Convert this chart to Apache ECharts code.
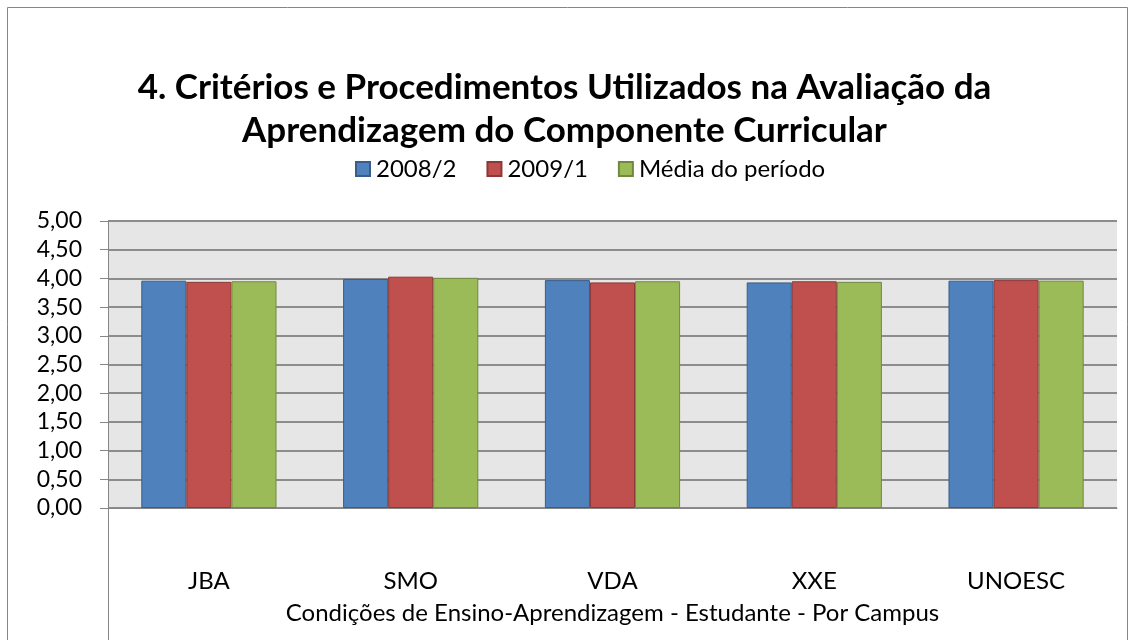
<!DOCTYPE html>
<html><head><meta charset="utf-8">
<script src="https://cdn.jsdelivr.net/npm/echarts@6/dist/echarts.min.js"></script>
<style>html,body{margin:0;padding:0;background:#fff}#c{width:1129px;height:640px}</style>
</head><body><div id="c"></div>
<script>
const categories = ['JBA', 'SMO', 'VDA', 'XXE', 'UNOESC'];
const s2008_2 = [3.96, 3.99, 3.97, 3.93, 3.96];
const s2009_1 = [3.94, 4.03, 3.93, 3.95, 3.97];
const sMedia = [3.95, 4.01, 3.95, 3.94, 3.96];
const seriesNames = ['2008/2', '2009/1', 'Média do período'];
const titleText = '4. Critérios e Procedimentos Utilizados na Avaliação da\nAprendizagem do Componente Curricular';
const xAxisName = 'Condições de Ensino-Aprendizagem - Estudante - Por Campus';

const font = 'Lato, "Open Sans", sans-serif';
const chart = echarts.init(document.getElementById('c'), null, {renderer: 'canvas'});
const colors = ['#4F81BD', '#C0504D', '#9BBB59'];
const borders = ['#385D8A', '#8C3836', '#71893F'];
const data = [s2008_2, s2009_1, sMedia];
chart.setOption({
  animation: false,
  title: {
    text: titleText, left: 'center', top: 61,
    textStyle: {fontFamily: font, fontWeight: 'bold', fontSize: 35, lineHeight: 43, color: '#000'}
  },
  legend: {
    top: 152, left: 350, itemWidth: 14, itemHeight: 14, itemGap: 30,
    icon: 'rect',
    textStyle: {fontFamily: font, fontSize: 24, color: '#000', padding: [0, 0, 0, 1]},
    data: seriesNames
  },
  graphic: [
    {type: 'rect', shape: {x: 7.5, y: 7.5, width: 1120, height: 700}, style: {fill: 'none', stroke: '#868686', lineWidth: 1}, silent: true},
    {type: 'line', shape: {x1: 108.5, y1: 508, x2: 108.5, y2: 640}, style: {stroke: '#868686', lineWidth: 1}, silent: true}
  ],
  grid: {left: 108, right: 12, top: 221, bottom: 132, show: true, backgroundColor: '#E6E6E6', borderWidth: 0},
  xAxis: {
    type: 'category', data: categories,
    name: xAxisName, nameLocation: 'middle', nameGap: 93,
    nameTextStyle: {fontFamily: font, fontSize: 24, color: '#000'},
    axisLine: {lineStyle: {color: '#868686', width: 1}},
    axisTick: {show: false},
    axisLabel: {fontFamily: font, fontSize: 24, color: '#000', margin: 61}
  },
  yAxis: {
    type: 'value', min: 0, max: 5, interval: 0.5,
    axisLine: {show: true, lineStyle: {color: '#868686'}},
    axisTick: {show: true, length: 8, lineStyle: {color: '#868686'}},
    splitLine: {lineStyle: {color: '#8C8C8C', width: 2}},
    axisLabel: {fontFamily: font, fontSize: 23, color: '#000', margin: 26,
      formatter: v => v.toFixed(2).replace('.', ',')}
  },
  series: seriesNames.map((n, i) => ({
    name: n, type: 'bar', data: data[i],
    barGap: '0%', barCategoryGap: '33%',
    itemStyle: {color: colors[i], borderColor: borders[i], borderWidth: 1}
  }))
});
</script></body></html>
